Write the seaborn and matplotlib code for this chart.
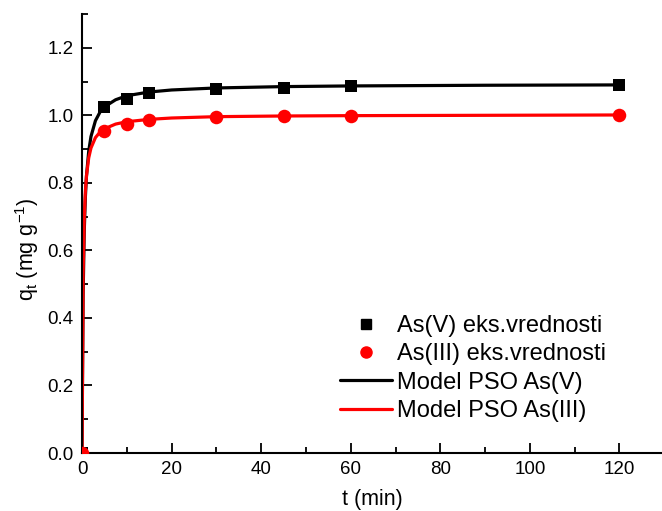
import numpy as np
import pandas as pd
import matplotlib
matplotlib.use("Agg")
import matplotlib.pyplot as plt
from matplotlib.lines import Line2D
from matplotlib.ticker import MultipleLocator
import seaborn as sns

# experimental data
t_exp = [0, 5, 10, 15, 30, 45, 60, 120]
q_as5 = [0.0, 1.026, 1.049, 1.067, 1.079, 1.082, 1.088, 1.089]
q_as3 = [0.0, 0.955, 0.973, 0.985, 0.996, 0.997, 0.999, 1.000]

# model curves
t_mod = [0, 0.25, 0.5, 0.75, 1, 1.5, 2, 3, 4, 5, 7.5, 10, 15, 20, 30, 45, 60, 90, 120]
q_mod5 = [0.0, 0.468, 0.656, 0.757, 0.820, 0.894, 0.937, 0.984, 1.009, 1.025,
          1.046, 1.058, 1.069, 1.075, 1.081, 1.085, 1.087, 1.089, 1.090]
q_mod3 = [0.0, 0.531, 0.694, 0.774, 0.821, 0.874, 0.903, 0.934, 0.950, 0.960,
          0.974, 0.981, 0.988, 0.992, 0.996, 0.998, 0.999, 1.000, 1.001]

labels = ["As(V) eks.vrednosti", "As(III) eks.vrednosti",
          "Model PSO As(V)", "Model PSO As(III)"]

sns.set_style("ticks")
plt.rcParams['font.family'] = ['Liberation Sans', 'DejaVu Sans']
plt.rcParams['mathtext.default'] = 'regular'
for k in ['text.color', 'axes.labelcolor', 'xtick.color', 'ytick.color', 'axes.edgecolor']:
    plt.rcParams[k] = 'black'

fig = plt.figure(figsize=(6.62, 5.11), dpi=100)
ax = fig.add_axes([82/662, 1-453/511, 1-82/662, (453-14)/511])

sns.lineplot(x=t_mod, y=q_mod5, ax=ax, color='black', lw=2.3, zorder=2)
sns.lineplot(x=t_mod, y=q_mod3, ax=ax, color='red', lw=2.3, zorder=2)
sns.scatterplot(x=t_exp, y=q_as5, ax=ax, marker='s', color='black', s=75,
                edgecolor='black', linewidth=0, zorder=3)
sns.scatterplot(x=t_exp, y=q_as3, ax=ax, marker='o', color='red', s=95,
                edgecolor='red', linewidth=0, zorder=3)

ax.set_xlim(0, 129.5)
ax.set_ylim(0, 1.3)
ax.xaxis.set_major_locator(MultipleLocator(20))
ax.xaxis.set_minor_locator(MultipleLocator(10))
ax.yaxis.set_major_locator(MultipleLocator(0.2))
ax.yaxis.set_minor_locator(MultipleLocator(0.1))
ax.yaxis.set_major_formatter(matplotlib.ticker.FormatStrFormatter('%.1f'))
ax.tick_params(which='major', direction='in', length=7, width=1.3, labelsize=13.5, pad=6)
ax.tick_params(which='minor', direction='in', length=4, width=1.3)
for s in ['top', 'right']:
    ax.spines[s].set_visible(False)
for s in ['left', 'bottom']:
    ax.spines[s].set_linewidth(1.5)

ax.set_xlabel('t (min)', fontsize=15.5)
ax.set_ylabel(r'q$_t$ (mg g$^{-1}$)', fontsize=15.5)
ax.xaxis.set_label_coords((372 - 82) / 580, -(489 - 453) / 439)
ax.yaxis.set_label_coords(-(82 - 41) / 580, (453 - 249) / 439)

handles = [
    Line2D([], [], ls='none', marker='s', color='black', markersize=6.5),
    Line2D([], [], ls='none', marker='o', color='red', markersize=8),
    Line2D([], [], color='black', lw=2.3),
    Line2D([], [], color='red', lw=2.3),
]
ax.legend(handles, labels, loc='upper left', frameon=False, fontsize=17,
          bbox_to_anchor=(340/662, 1-315/511), bbox_transform=fig.transFigure,
          handlelength=2.2, handletextpad=0.2, labelspacing=0.27, borderaxespad=0,
          borderpad=0)

fig.savefig('out.png', dpi=100)
